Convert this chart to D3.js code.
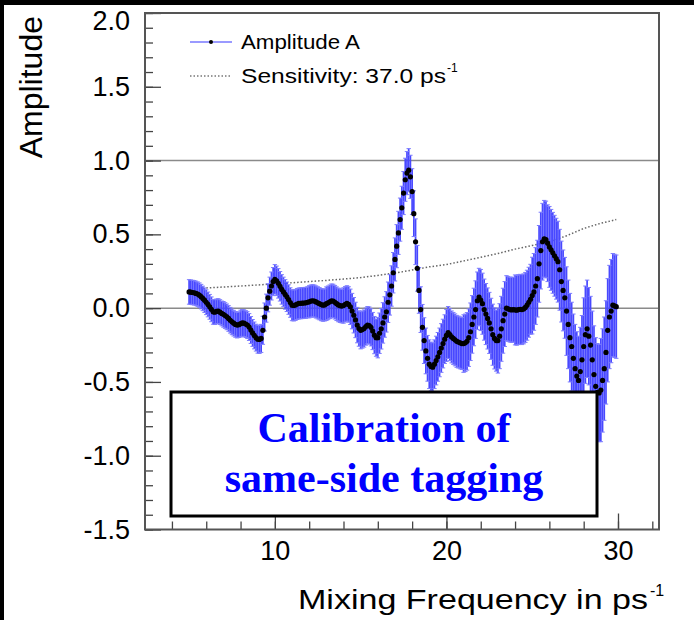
<!DOCTYPE html>
<html>
<head>
<meta charset="utf-8">
<script src="https://cdn.jsdelivr.net/npm/d3@7"></script>
<style>
  html, body { margin: 0; padding: 0; background: #fff; }
  svg { display: block; }
</style>
</head>
<body>
<svg id="svg" width="694" height="620"></svg>
<script>
// amplitude scan, one row per ps^-1 (points every 0.1 from 5.0)
const freqStart = 5.0;
const freqStep = 0.1;
const ampRows = [
  [0.11, 0.108, 0.106, 0.104, 0.10, 0.095, 0.088, 0.078, 0.066, 0.054],          // 5
  [0.04, 0.025, 0.009, -0.008, -0.025, -0.027, -0.022, -0.02, -0.027, -0.036],    // 6
  [-0.042, -0.05, -0.059, -0.07, -0.082, -0.093, -0.102, -0.11, -0.115, -0.112],  // 7
  [-0.105, -0.10, -0.102, -0.108, -0.115, -0.128, -0.148, -0.168, -0.185, -0.2],  // 8
  [-0.21, -0.212, -0.205, -0.15, -0.06, 0.0, 0.07, 0.115, 0.15, 0.18],            // 9
  [0.195, 0.185, 0.168, 0.148, 0.127, 0.11, 0.093, 0.077, 0.058, 0.038],          // 10
  [0.02, 0.018, 0.022, 0.028, 0.032, 0.033, 0.034, 0.035, 0.036, 0.04],           // 11
  [0.043, 0.048, 0.05, 0.048, 0.042, 0.036, 0.03, 0.024, 0.02, 0.022],            // 12
  [0.03, 0.036, 0.043, 0.05, 0.048, 0.04, 0.03, 0.022, 0.017, 0.014],             // 13
  [0.018, 0.026, 0.032, 0.025, 0.009, -0.02, -0.048, -0.08, -0.115, -0.138],      // 14
  [-0.15, -0.145, -0.138, -0.125, -0.115, -0.118, -0.13, -0.155, -0.183, -0.2],   // 15
  [-0.2, -0.17, -0.14, -0.1, -0.06, -0.025, 0.04, 0.09, 0.15, 0.24],              // 16
  [0.33, 0.42, 0.51, 0.6, 0.68, 0.78, 0.87, 0.915, 0.935, 0.89],                  // 17
  [0.79, 0.64, 0.45, 0.27, 0.12, -0.01, -0.13, -0.22, -0.29, -0.34],              // 18
  [-0.38, -0.395, -0.4, -0.38, -0.355, -0.33, -0.3, -0.27, -0.24, -0.21],         // 19
  [-0.185, -0.165, -0.18, -0.195, -0.205, -0.215, -0.225, -0.23, -0.235, -0.24],  // 20
  [-0.24, -0.235, -0.225, -0.2, -0.16, -0.11, -0.06, -0.01, 0.05, 0.075],         // 21
  [0.055, 0.03, -0.01, -0.04, -0.07, -0.1, -0.14, -0.18, -0.205, -0.22],          // 22
  [-0.22, -0.19, -0.14, -0.085, -0.04, 0.0, -0.005, -0.01, -0.012, -0.01],        // 23
  [-0.012, -0.014, -0.01, -0.008, -0.01, -0.005, 0.005, 0.02, 0.04, 0.06],        // 24
  [0.085, 0.11, 0.15, 0.2, 0.3, 0.39, 0.45, 0.47, 0.465, 0.44],                   // 25
  [0.415, 0.395, 0.375, 0.355, 0.335, 0.315, 0.26, 0.18, 0.12, 0.07],             // 26
  [-0.02, -0.11, -0.2, -0.26, -0.34, -0.41, -0.46, -0.49, -0.43, -0.35],          // 27
  [-0.26, -0.18, -0.14, -0.19, -0.25, -0.35, -0.45, -0.53, -0.57, -0.575],        // 28
  [-0.555, -0.49, -0.41, -0.3, -0.15, -0.06, -0.02, 0.02, 0.015, 0.01]            // 29
];
// error per ps^-1 bin (5 .. 29)
const errByUnit = [0.083, 0.084, 0.087, 0.091, 0.095, 0.10, 0.105, 0.109, 0.114, 0.12,
                   0.126, 0.137, 0.146, 0.155, 0.165, 0.176, 0.195, 0.207, 0.22, 0.237,
                   0.26, 0.274, 0.30, 0.33, 0.35];
// sensitivity curve
const sensFreq = [5.8, 6, 7, 8, 9, 10, 11, 12, 13, 14, 15, 16, 17, 18, 19, 20, 21, 22, 23, 24, 25, 26, 27, 28, 29, 29.9];
const sensVal  = [0.135, 0.137, 0.143, 0.15, 0.157, 0.165, 0.172, 0.18, 0.188, 0.197, 0.207, 0.222, 0.238, 0.258,
                  0.28, 0.295, 0.32, 0.345, 0.37, 0.4, 0.425, 0.45, 0.49, 0.54, 0.575, 0.6];

const yMajor = [-1.5, -1.0, -0.5, 0.0, 0.5, 1.0, 1.5, 2.0];
const xMajor = [10, 20, 30];
const gridAt = [0, 1];

const svg = d3.select("#svg");
const x = d3.scaleLinear().domain([2.43, 32.39]).range([145, 659]);
const y = d3.scaleLinear().domain([-1.5, 2.0]).range([529.5, 13]);

const pts = [];
ampRows.forEach((row, r) => {
  row.forEach((a, c) => {
    pts.push({ f: freqStart + r + c * freqStep, a: a, e: errByUnit[r] });
  });
});

// grid lines
svg.selectAll(".grid").data(gridAt).join("line")
   .attr("x1", x.range()[0]).attr("x2", x.range()[1])
   .attr("y1", d => y(d)).attr("y2", d => y(d))
   .attr("stroke", "#8a8a8a").attr("stroke-width", 1.5);

// sensitivity
svg.append("path")
   .datum(sensFreq.map((f, i) => [f, sensVal[i]]))
   .attr("d", d3.line().x(d => x(d[0])).y(d => y(d[1])))
   .attr("fill", "none").attr("stroke", "#666").attr("stroke-width", 1.5)
   .attr("stroke-dasharray", "1.5,2");

// error bars
const bars = svg.append("g");
bars.selectAll("line.bar").data(pts).join("line").attr("class", "bar")
    .attr("x1", d => x(d.f)).attr("x2", d => x(d.f))
    .attr("y1", d => y(d.a - d.e)).attr("y2", d => y(d.a + d.e))
    .attr("stroke", "#4848ff").attr("stroke-width", 1.7);
bars.selectAll("line.capHi").data(pts).join("line").attr("class", "capHi")
    .attr("x1", d => x(d.f) - 2.2).attr("x2", d => x(d.f) + 2.2)
    .attr("y1", d => y(d.a + d.e)).attr("y2", d => y(d.a + d.e))
    .attr("stroke", "#7c7cff").attr("stroke-width", 1);
bars.selectAll("line.capLo").data(pts).join("line").attr("class", "capLo")
    .attr("x1", d => x(d.f) - 2.2).attr("x2", d => x(d.f) + 2.2)
    .attr("y1", d => y(d.a - d.e)).attr("y2", d => y(d.a - d.e))
    .attr("stroke", "#7c7cff").attr("stroke-width", 1);

// points
svg.append("g").selectAll("circle").data(pts).join("circle")
   .attr("cx", d => x(d.f)).attr("cy", d => y(d.a)).attr("r", 2.6)
   .attr("fill", "#000");

// axes
const font = "'Liberation Sans', Arial, Helvetica, sans-serif";
const yAx = svg.append("g").attr("transform", `translate(${x.range()[0]},0)`)
   .call(d3.axisLeft(y).tickValues(yMajor).tickSize(-16).tickPadding(15).tickFormat(d3.format(".1f")));
svg.append("g").attr("transform", `translate(${x.range()[0]},0)`)
   .call(d3.axisLeft(y).tickValues(d3.range(-15, 21).map(v => v / 10)).tickSize(-8).tickFormat(""));
const xAx = svg.append("g").attr("transform", `translate(0,${y.range()[0]})`)
   .call(d3.axisBottom(x).tickValues(xMajor).tickSize(-16).tickPadding(11).tickFormat(d3.format("d")));
svg.append("g").attr("transform", `translate(0,${y.range()[0]})`)
   .call(d3.axisBottom(x).tickValues(d3.range(4, 33, 2)).tickSize(-8).tickFormat(""));
svg.selectAll(".domain").remove();
svg.selectAll(".tick line").attr("stroke", "#444").attr("stroke-width", 1.3);
svg.selectAll(".tick text").attr("font-family", font).attr("font-size", 27).attr("fill", "#000");
yAx.selectAll(".tick text").text(d => d3.format(".1f")(d).replace("−", "-"));
// top label sits just under the frame edge
yAx.selectAll(".tick text").filter(d => d === 2).attr("dy", "0.62em");

// frame
svg.append("rect")
   .attr("x", x.range()[0]).attr("y", y.range()[1])
   .attr("width", x.range()[1] - x.range()[0]).attr("height", y.range()[0] - y.range()[1])
   .attr("fill", "none").attr("stroke", "#555").attr("stroke-width", 2);

// image border bits
svg.append("rect").attr("x", 0).attr("y", 0).attr("width", 694).attr("height", 5).attr("fill", "#000");
svg.append("rect").attr("x", 0).attr("y", 0).attr("width", 4).attr("height", 620).attr("fill", "#000");

// axis titles
svg.append("text").attr("x", 298).attr("y", 609)
   .attr("font-family", font).attr("font-size", 28)
   .attr("textLength", 350).attr("lengthAdjust", "spacingAndGlyphs")
   .text("Mixing Frequency in ps");
svg.append("text").attr("x", 650).attr("y", 596)
   .attr("font-family", font).attr("font-size", 16).text("-1");
svg.append("text").attr("transform", "translate(42,16) rotate(-90)")
   .attr("text-anchor", "end")
   .attr("font-family", font).attr("font-size", 32)
   .text("Amplitude");

// legend
const lg = svg.append("g");
lg.append("line").attr("x1", 190).attr("x2", 232).attr("y1", 42).attr("y2", 42)
  .attr("stroke", "#9a9aff").attr("stroke-width", 2);
lg.append("circle").attr("cx", 211).attr("cy", 42).attr("r", 2).attr("fill", "#000");
lg.append("text").attr("x", 241).attr("y", 49).attr("font-family", font).attr("font-size", 20)
  .attr("textLength", 119).attr("lengthAdjust", "spacingAndGlyphs").text("Amplitude A");
lg.append("line").attr("x1", 190).attr("x2", 232).attr("y1", 76).attr("y2", 76)
  .attr("stroke", "#777").attr("stroke-width", 1.5).attr("stroke-dasharray", "1.5,2");
lg.append("text").attr("x", 241).attr("y", 83).attr("font-family", font).attr("font-size", 20)
  .attr("textLength", 205).attr("lengthAdjust", "spacingAndGlyphs").text("Sensitivity: 37.0 ps");
lg.append("text").attr("x", 447).attr("y", 72).attr("font-family", font).attr("font-size", 12).text("-1");

// annotation box
svg.append("rect").attr("x", 171).attr("y", 392).attr("width", 426).attr("height", 124)
   .attr("fill", "#fff").attr("stroke", "#000").attr("stroke-width", 3);
const serif = "'Liberation Serif', 'Times New Roman', Times, serif";
svg.append("text").attr("x", 384).attr("y", 442).attr("text-anchor", "middle")
   .attr("font-family", serif).attr("font-weight", "bold").attr("font-size", 42).attr("fill", "#0000ff")
   .text("Calibration of");
svg.append("text").attr("x", 384).attr("y", 492).attr("text-anchor", "middle")
   .attr("font-family", serif).attr("font-weight", "bold").attr("font-size", 42).attr("fill", "#0000ff")
   .text("same-side tagging");
</script>
</body>
</html>
